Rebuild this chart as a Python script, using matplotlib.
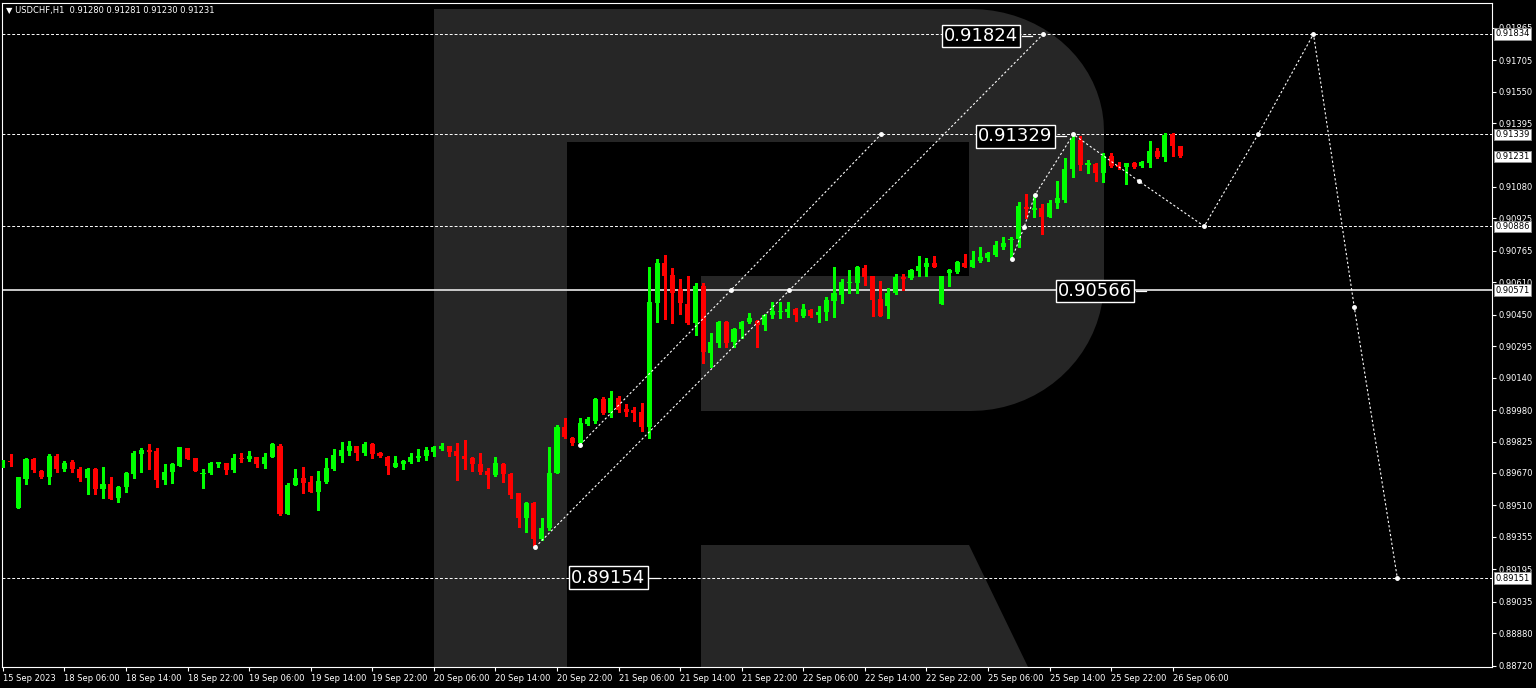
import matplotlib
matplotlib.use("Agg")
import matplotlib.pyplot as plt
from matplotlib.patches import Polygon
from matplotlib.transforms import blended_transform_factory
import numpy as np

# USDCHF H1 bars, 15 Sep 22:00 .. 26 Sep 07:00
opens = [0.89705, 0.89730, 0.89499, 0.89641, 0.89740, 0.89681, 0.89651, 0.89755, 0.89691, 0.89725,
         0.89691, 0.89646, 0.89691, 0.89592, 0.89617, 0.89548, 0.89602, 0.89666, 0.89764, 0.89784,
         0.89779, 0.89636, 0.89676, 0.89705, 0.89794, 0.89745, 0.89666, 0.89671, 0.89715, 0.89720,
         0.89686, 0.89745, 0.89740, 0.89750, 0.89715, 0.89750, 0.89804, 0.89469, 0.89612, 0.89646,
         0.89627, 0.89577, 0.89627, 0.89691, 0.89755, 0.89779, 0.89804, 0.89769, 0.89814, 0.89769,
         0.89750, 0.89700, 0.89715, 0.89725, 0.89745, 0.89755, 0.89774, 0.89789, 0.89804, 0.89779,
         0.89755, 0.89745, 0.89715, 0.89681, 0.89661, 0.89715, 0.89666, 0.89573, 0.89449, 0.89523,
         0.89344, 0.89399, 0.89671, 0.89897, 0.89842, 0.89818, 0.89912, 0.89926, 0.90034, 0.89966,
         0.90039, 0.89985, 0.89981, 0.89971, 0.89897, 0.90508, 0.90705, 0.90646, 0.90577, 0.90503,
         0.90409, 0.90592, 0.90261, 0.90311, 0.90414, 0.90316, 0.90380, 0.90414, 0.90419, 0.90399,
         0.90449, 0.90463, 0.90463, 0.90478, 0.90444, 0.90473, 0.90449, 0.90463, 0.90518, 0.90547,
         0.90606, 0.90606, 0.90680, 0.90641, 0.90528, 0.90493, 0.90557, 0.90636, 0.90631, 0.90665,
         0.90685, 0.90705, 0.90503, 0.90656, 0.90661, 0.90705, 0.90685, 0.90715, 0.90730, 0.90745,
         0.90784, 0.90818, 0.90823, 0.90981, 0.90966, 0.90976, 0.90932, 0.91001, 0.91016, 0.91168,
         0.91311, 0.91188, 0.91193, 0.91149, 0.91233, 0.91188, 0.91179, 0.91198, 0.91183, 0.91198,
         0.91257, 0.91228, 0.91341, 0.91280]
highs = [0.89735, 0.89764, 0.89651, 0.89745, 0.89745, 0.89686, 0.89764, 0.89764, 0.89730, 0.89735,
         0.89700, 0.89696, 0.89696, 0.89700, 0.89651, 0.89607, 0.89676, 0.89779, 0.89794, 0.89814,
         0.89794, 0.89715, 0.89720, 0.89799, 0.89794, 0.89745, 0.89691, 0.89725, 0.89725, 0.89720,
         0.89764, 0.89769, 0.89779, 0.89750, 0.89769, 0.89818, 0.89814, 0.89622, 0.89691, 0.89700,
         0.89656, 0.89681, 0.89745, 0.89789, 0.89823, 0.89828, 0.89804, 0.89823, 0.89818, 0.89774,
         0.89755, 0.89755, 0.89735, 0.89769, 0.89789, 0.89799, 0.89804, 0.89818, 0.89804, 0.89818,
         0.89833, 0.89750, 0.89769, 0.89696, 0.89750, 0.89720, 0.89671, 0.89573, 0.89528, 0.89528,
         0.89449, 0.89799, 0.89907, 0.89941, 0.89847, 0.89941, 0.89946, 0.90039, 0.90044, 0.90074,
         0.90049, 0.90010, 0.89995, 0.90015, 0.90685, 0.90725, 0.90745, 0.90680, 0.90626, 0.90641,
         0.90606, 0.90606, 0.90360, 0.90419, 0.90419, 0.90385, 0.90419, 0.90458, 0.90424, 0.90454,
         0.90513, 0.90513, 0.90513, 0.90483, 0.90503, 0.90478, 0.90493, 0.90538, 0.90685, 0.90626,
         0.90670, 0.90690, 0.90695, 0.90641, 0.90616, 0.90582, 0.90651, 0.90651, 0.90675, 0.90740,
         0.90730, 0.90740, 0.90641, 0.90675, 0.90715, 0.90750, 0.90764, 0.90784, 0.90759, 0.90813,
         0.90833, 0.90833, 0.91006, 0.91045, 0.91040, 0.90996, 0.91016, 0.91109, 0.91223, 0.91346,
         0.91331, 0.91213, 0.91198, 0.91247, 0.91247, 0.91203, 0.91198, 0.91203, 0.91208, 0.91307,
         0.91272, 0.91346, 0.91346, 0.91281]
lows = [0.89700, 0.89705, 0.89499, 0.89617, 0.89676, 0.89646, 0.89617, 0.89676, 0.89681, 0.89676,
        0.89632, 0.89568, 0.89568, 0.89548, 0.89543, 0.89528, 0.89577, 0.89646, 0.89676, 0.89691,
        0.89602, 0.89617, 0.89622, 0.89705, 0.89740, 0.89681, 0.89597, 0.89666, 0.89700, 0.89666,
        0.89676, 0.89725, 0.89730, 0.89700, 0.89696, 0.89750, 0.89464, 0.89469, 0.89612, 0.89573,
        0.89577, 0.89489, 0.89622, 0.89686, 0.89725, 0.89759, 0.89735, 0.89759, 0.89745, 0.89750,
        0.89666, 0.89700, 0.89691, 0.89720, 0.89730, 0.89735, 0.89755, 0.89784, 0.89755, 0.89636,
        0.89691, 0.89681, 0.89666, 0.89597, 0.89656, 0.89627, 0.89548, 0.89404, 0.89379, 0.89310,
        0.89339, 0.89389, 0.89671, 0.89842, 0.89809, 0.89818, 0.89907, 0.89917, 0.89961, 0.89946,
        0.89971, 0.89951, 0.89926, 0.89877, 0.89842, 0.90414, 0.90429, 0.90409, 0.90454, 0.90404,
        0.90350, 0.90212, 0.90193, 0.90291, 0.90291, 0.90291, 0.90335, 0.90409, 0.90291, 0.90375,
        0.90434, 0.90434, 0.90439, 0.90419, 0.90439, 0.90439, 0.90414, 0.90424, 0.90439, 0.90508,
        0.90557, 0.90557, 0.90597, 0.90444, 0.90444, 0.90434, 0.90552, 0.90572, 0.90626, 0.90641,
        0.90641, 0.90685, 0.90503, 0.90592, 0.90656, 0.90685, 0.90685, 0.90710, 0.90715, 0.90740,
        0.90774, 0.90725, 0.90784, 0.90927, 0.90932, 0.90848, 0.90932, 0.90976, 0.91006, 0.91129,
        0.91163, 0.91149, 0.91109, 0.91104, 0.91179, 0.91168, 0.91095, 0.91173, 0.91179, 0.91179,
        0.91223, 0.91208, 0.91233, 0.91230]
closes = [0.89730, 0.89725, 0.89651, 0.89740, 0.89686, 0.89651, 0.89755, 0.89691, 0.89720, 0.89691,
          0.89646, 0.89691, 0.89592, 0.89617, 0.89543, 0.89602, 0.89671, 0.89769, 0.89784, 0.89774,
          0.89636, 0.89676, 0.89715, 0.89799, 0.89740, 0.89681, 0.89671, 0.89720, 0.89725, 0.89686,
          0.89745, 0.89740, 0.89755, 0.89715, 0.89750, 0.89814, 0.89469, 0.89612, 0.89646, 0.89622,
          0.89577, 0.89632, 0.89696, 0.89759, 0.89784, 0.89804, 0.89769, 0.89814, 0.89764, 0.89755,
          0.89705, 0.89720, 0.89730, 0.89750, 0.89755, 0.89784, 0.89799, 0.89804, 0.89774, 0.89755,
          0.89740, 0.89715, 0.89676, 0.89661, 0.89720, 0.89666, 0.89563, 0.89449, 0.89523, 0.89344,
          0.89399, 0.89671, 0.89897, 0.89847, 0.89818, 0.89917, 0.89936, 0.90034, 0.89966, 0.90039,
          0.89981, 0.89971, 0.89966, 0.89897, 0.90513, 0.90705, 0.90641, 0.90557, 0.90508, 0.90409,
          0.90592, 0.90266, 0.90316, 0.90414, 0.90311, 0.90380, 0.90414, 0.90434, 0.90399, 0.90449,
          0.90468, 0.90468, 0.90478, 0.90449, 0.90478, 0.90444, 0.90463, 0.90523, 0.90557, 0.90611,
          0.90611, 0.90685, 0.90636, 0.90523, 0.90444, 0.90557, 0.90636, 0.90626, 0.90670, 0.90690,
          0.90705, 0.90685, 0.90641, 0.90670, 0.90710, 0.90685, 0.90720, 0.90735, 0.90754, 0.90794,
          0.90804, 0.90823, 0.90986, 0.90971, 0.90976, 0.90932, 0.91001, 0.91025, 0.91168, 0.91316,
          0.91188, 0.91198, 0.91149, 0.91233, 0.91183, 0.91179, 0.91198, 0.91179, 0.91203, 0.91257,
          0.91228, 0.91336, 0.91282, 0.91231]

time_labels = ['15 Sep 2023', '18 Sep 06:00', '18 Sep 14:00', '18 Sep 22:00', '19 Sep 06:00',
               '19 Sep 14:00', '19 Sep 22:00', '20 Sep 06:00', '20 Sep 14:00', '20 Sep 22:00',
               '21 Sep 06:00', '21 Sep 14:00', '21 Sep 22:00', '22 Sep 06:00', '22 Sep 14:00',
               '22 Sep 22:00', '25 Sep 06:00', '25 Sep 14:00', '25 Sep 22:00', '26 Sep 06:00']
price_ticks = [0.91865, 0.91705, 0.91550, 0.91395, 0.91080, 0.90925, 0.90765, 0.90610,
               0.90450, 0.90295, 0.90140, 0.89980, 0.89825, 0.89670, 0.89510, 0.89355, 0.89195,
               0.89035, 0.88880, 0.88720]

dashed_levels = [0.91834, 0.91339, 0.90886, 0.89151]
solid_level = 0.90571
axis_marks = [0.91834, 0.91339, 0.91231, 0.90886, 0.90571, 0.89151]

# big level captions: value, bar index of the box's right edge
caption_values = [0.91824, 0.91329, 0.90566, 0.89154]
caption_right = [131.9, 136.4, 146.7, 83.5]

# forecast polylines (bar index, price)
fc1_x = [69.2, 102.2, 135.2]
fc1_y = [0.89305, 0.90571, 0.91834]
fc2_x = [75.0, 94.6, 114.1]
fc2_y = [0.89809, 0.90571, 0.91339]
fc3_x = [131.1, 132.7, 134.1, 139.1, 147.6, 156.1, 163.1, 170.3, 175.6, 181.2]
fc3_y = [0.90725, 0.90882, 0.91040, 0.91339, 0.91109, 0.90886, 0.91339, 0.91834, 0.90488, 0.89151]

fig = plt.figure(figsize=(15.36, 6.88), dpi=100, facecolor='black')
ax = fig.add_axes([2 / 1536, 21 / 688, 1490 / 1536, 664 / 688], facecolor='black')
ax.set_xlim(-0.12, 193.5)
ax.set_ylim(0.887133, 0.919868)


# big "R" watermark, drawn in axes fractions from pixel outline
def pxa(xp, yp):
    return ((xp - 2) / 1490, (667 - yp) / 664)


t = np.linspace(np.pi / 2, 0, 20)
top_arc = [(971 + 133 * np.cos(a), 131 - 122 * np.sin(a)) for a in t]
t = np.linspace(0, -np.pi / 2, 20)
bot_arc = [(971 + 133 * np.cos(a), 281 - 130 * np.sin(a)) for a in t]
outline = [(434, 667), (434, 9)] + top_arc + bot_arc + \
          [(701, 411), (701, 276), (969, 276), (969, 142), (567, 142), (567, 667)]
leg = [(701, 545), (969, 545), (1028, 667), (701, 667)]
for shape in (outline, leg):
    ax.add_patch(Polygon([pxa(*p) for p in shape], closed=True, transform=ax.transAxes,
                         facecolor='#262626', edgecolor='none', zorder=0))

# candles
o = np.array(opens)
h = np.array(highs)
l = np.array(lows)
c = np.array(closes)
x = np.arange(len(o))
cols = np.where(c >= o, '#00ff00', '#ff0000')
ax.vlines(x, l, h, colors=cols, lw=1, zorder=3, antialiased=False)
body = np.maximum(np.abs(c - o), 0.00003)
ax.bar(x, body, bottom=np.minimum(o, c), width=0.66, color=cols, lw=0, zorder=3,
       antialiased=False)

# levels
for v in dashed_levels:
    ax.axhline(v, color='white', lw=0.7, dashes=(3, 2), zorder=2)
ax.axhline(solid_level, color='#d8d8d8', lw=1.3, zorder=2)

# forecast paths
for xs, ys in ((fc1_x, fc1_y), (fc2_x, fc2_y), (fc3_x, fc3_y)):
    ax.plot(xs, ys, color='white', lw=0.8, dashes=(2, 2), marker='o', ms=2.5,
            mfc='white', mec='white', zorder=4)

# captions
for v, xr in zip(caption_values, caption_right):
    ax.text(xr, v, f'{v:.5f}', color='white', fontsize=13, ha='right', va='center', zorder=5,
            bbox=dict(boxstyle='square,pad=0.12', fc='black', ec='white', lw=1))
    ax.plot([xr + 0.5, xr + 1.8], [v, v], color='white', lw=0.9, zorder=5)

# axes styling
for s in ax.spines.values():
    s.set_color('white')
    s.set_linewidth(0.8)
ax.yaxis.tick_right()
ax.set_yticks(price_ticks)
ax.set_yticklabels([f'{v:.5f}' for v in price_ticks])
ax.tick_params(axis='y', length=3, width=0.8, colors='white', labelsize=6, pad=2)
ax.set_xticks(range(0, 8 * len(time_labels), 8))
ax.set_xticklabels(time_labels)
ax.tick_params(axis='x', length=3, width=0.8, colors='white', labelsize=6, pad=2)
for lab in ax.get_xticklabels():
    lab.set_ha('left')

trans = blended_transform_factory(ax.transAxes, ax.transData)
for v in axis_marks:
    ax.text(1.0025, v, f'{v:.5f}', transform=trans, color='black', fontsize=6, ha='left',
            va='center', clip_on=False, zorder=6,
            bbox=dict(boxstyle='square,pad=0.15', fc='white', ec='#909090', lw=0.6))

fig.text(6 / 1536, 1 - 10 / 688, '\u25bc USDCHF,H1  0.91280 0.91281 0.91230 0.91231',
         color='white', fontsize=6, va='center', ha='left')

fig.savefig('out.png', dpi=100, facecolor='black')
